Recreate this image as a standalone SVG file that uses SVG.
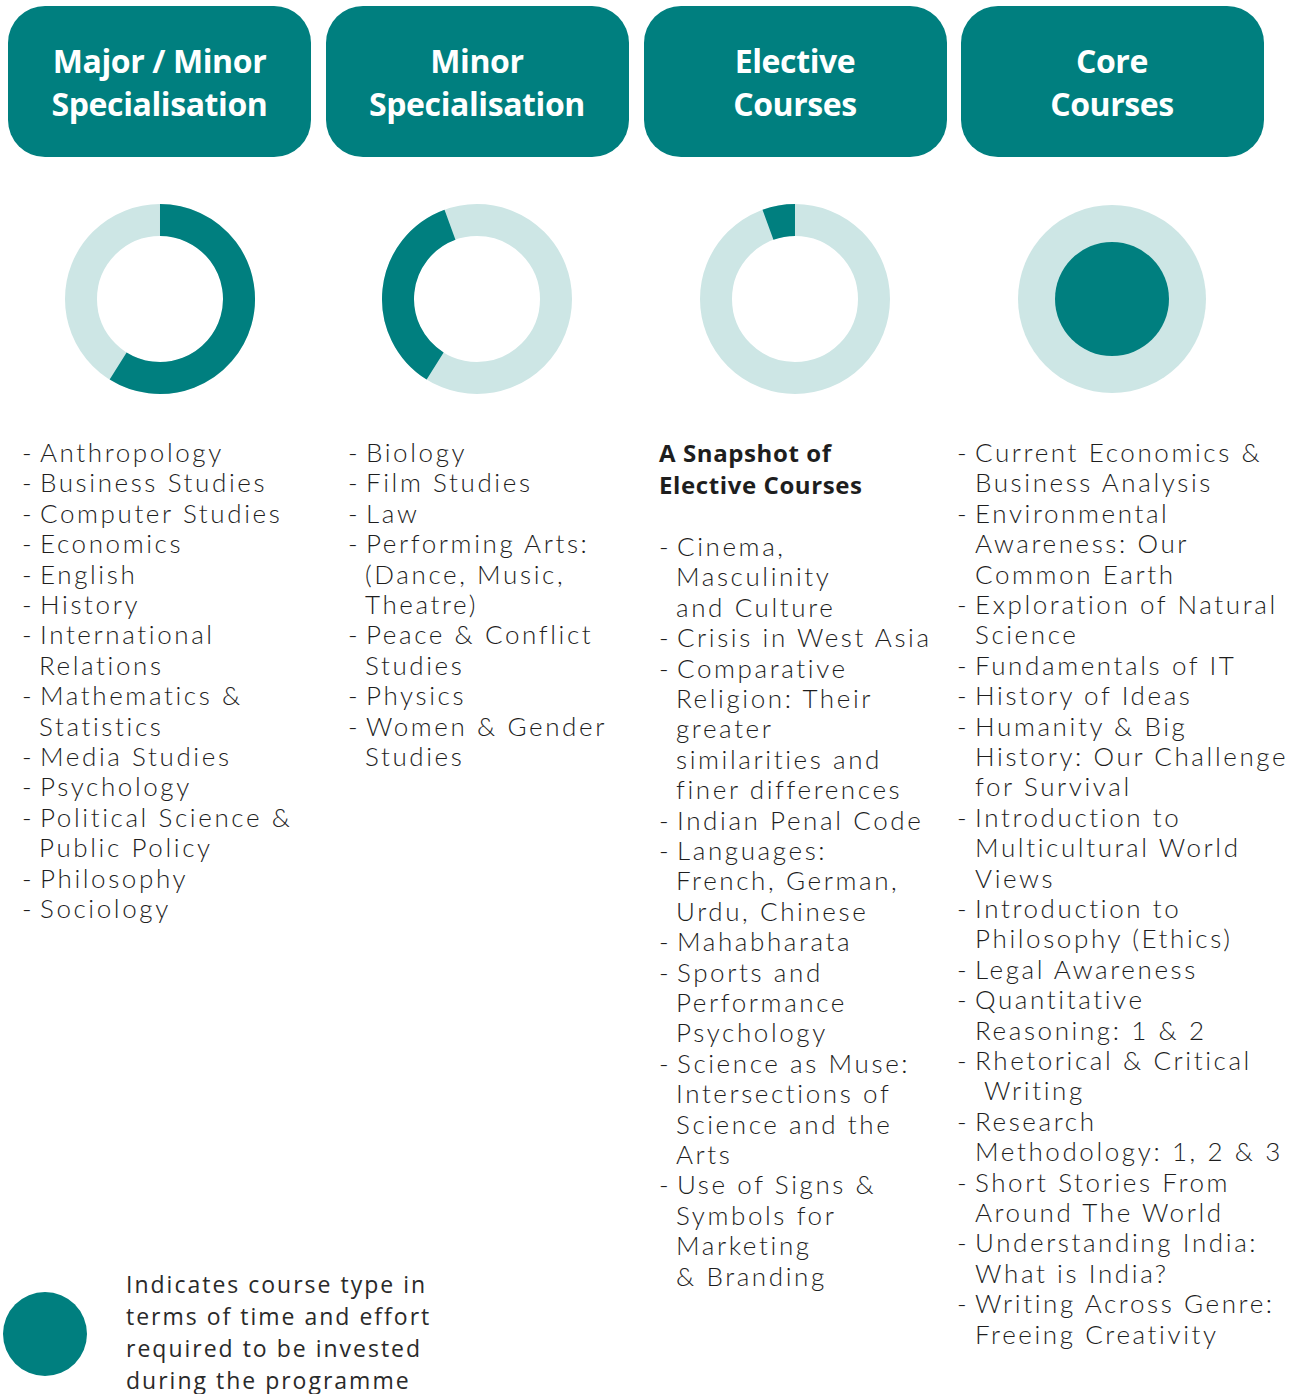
<svg xmlns="http://www.w3.org/2000/svg" width="1292" height="1394" viewBox="0 0 1292 1394">
<style>
.hdr{fill:#007f7f}
.ht{font-family:"Open Sans",sans-serif;font-weight:700;font-size:32px;fill:#ffffff;text-anchor:middle;letter-spacing:-0.4px}
.t{font-family:Lato,"Liberation Sans",sans-serif;font-weight:300;font-size:26px;fill:#1e1e1e;letter-spacing:2.6px}
.bt{font-family:"Open Sans",sans-serif;font-weight:700;font-size:24px;fill:#1e1e1e;letter-spacing:0.6px}
.lg{font-family:"Open Sans",sans-serif;font-size:23px;fill:#2a2a2a;letter-spacing:2px}
.light{fill:none;stroke:#cde6e5;stroke-width:32}
.dark{fill:none;stroke:#007f7f;stroke-width:32}
</style>
<rect width="1292" height="1394" fill="#ffffff"/>

<g id="header-major-minor">
<rect class="hdr" x="8" y="6" width="303" height="151" rx="37"/>
<text class="ht" x="159.5" y="73">Major / Minor</text>
<text class="ht" x="159.5" y="116">Specialisation</text>
</g>
<g id="header-minor">
<rect class="hdr" x="326" y="6" width="303" height="151" rx="37"/>
<text class="ht" x="477" y="73">Minor</text>
<text class="ht" x="477" y="116">Specialisation</text>
</g>
<g id="header-elective">
<rect class="hdr" x="644" y="6" width="303" height="151" rx="37"/>
<text class="ht" x="795" y="73">Elective</text>
<text class="ht" x="795" y="116">Courses</text>
</g>
<g id="header-core">
<rect class="hdr" x="961" y="6" width="303" height="151" rx="37"/>
<text class="ht" x="1112" y="73">Core</text>
<text class="ht" x="1112" y="116">Courses</text>
</g>

<g id="donut-major-minor">
<circle class="light" cx="160" cy="299" r="79"/>
<path class="dark" d="M160,220 A79,79 0 1 1 118.14,365.99"/>
</g>
<g id="donut-minor">
<circle class="light" cx="477" cy="299" r="79"/>
<path class="dark" d="M435.14,365.99 A79,79 0 0 1 449.98,224.76"/>
</g>
<g id="donut-elective">
<circle class="light" cx="795" cy="299" r="79"/>
<path class="dark" d="M767.98,224.76 A79,79 0 0 1 795,220"/>
</g>
<g id="donut-core">
<circle cx="1112" cy="299" r="94" fill="#cde6e5"/>
<circle cx="1112" cy="299" r="57" fill="#007f7f"/>
</g>

<g id="list-major-minor" class="t">
<text y="462"><tspan x="22">-</tspan><tspan x="40">Anthropology</tspan></text>
<text y="492.4"><tspan x="22">-</tspan><tspan x="40">Business Studies</tspan></text>
<text y="522.8"><tspan x="22">-</tspan><tspan x="40">Computer Studies</tspan></text>
<text y="553.2"><tspan x="22">-</tspan><tspan x="40">Economics</tspan></text>
<text y="583.6"><tspan x="22">-</tspan><tspan x="40">English</tspan></text>
<text y="614"><tspan x="22">-</tspan><tspan x="40">History</tspan></text>
<text y="644.4"><tspan x="22">-</tspan><tspan x="40">International</tspan></text>
<text y="674.8" x="39">Relations</text>
<text y="705.2"><tspan x="22">-</tspan><tspan x="40">Mathematics &amp;</tspan></text>
<text y="735.6" x="39">Statistics</text>
<text y="766"><tspan x="22">-</tspan><tspan x="40">Media Studies</tspan></text>
<text y="796.4"><tspan x="22">-</tspan><tspan x="40">Psychology</tspan></text>
<text y="826.8"><tspan x="22">-</tspan><tspan x="40">Political Science &amp;</tspan></text>
<text y="857.2" x="39">Public Policy</text>
<text y="887.6"><tspan x="22">-</tspan><tspan x="40">Philosophy</tspan></text>
<text y="918"><tspan x="22">-</tspan><tspan x="40">Sociology</tspan></text>
</g>

<g id="list-minor" class="t">
<text y="462"><tspan x="348">-</tspan><tspan x="366">Biology</tspan></text>
<text y="492.4"><tspan x="348">-</tspan><tspan x="366">Film Studies</tspan></text>
<text y="522.8"><tspan x="348">-</tspan><tspan x="366">Law</tspan></text>
<text y="553.2"><tspan x="348">-</tspan><tspan x="366">Performing Arts:</tspan></text>
<text y="583.6" x="365">(Dance, Music,</text>
<text y="614" x="365">Theatre)</text>
<text y="644.4"><tspan x="348">-</tspan><tspan x="366">Peace &amp; Conflict</tspan></text>
<text y="674.8" x="365">Studies</text>
<text y="705.2"><tspan x="348">-</tspan><tspan x="366">Physics</tspan></text>
<text y="735.6"><tspan x="348">-</tspan><tspan x="366">Women &amp; Gender</tspan></text>
<text y="766" x="365">Studies</text>
</g>

<g id="list-elective">
<text class="bt" x="659" y="462">A Snapshot of</text>
<text class="bt" x="659" y="494">Elective Courses</text>
<g class="t">
<text y="556"><tspan x="659">-</tspan><tspan x="677">Cinema,</tspan></text>
<text y="586.4" x="676">Masculinity</text>
<text y="616.8" x="676">and Culture</text>
<text y="647.2"><tspan x="659">-</tspan><tspan x="677">Crisis in West Asia</tspan></text>
<text y="677.6"><tspan x="659">-</tspan><tspan x="677">Comparative</tspan></text>
<text y="708" x="676">Religion: Their</text>
<text y="738.4" x="676">greater</text>
<text y="768.8" x="676">similarities and</text>
<text y="799.2" x="676">finer differences</text>
<text y="829.6"><tspan x="659">-</tspan><tspan x="677">Indian Penal Code</tspan></text>
<text y="860"><tspan x="659">-</tspan><tspan x="677">Languages:</tspan></text>
<text y="890.4" x="676">French, German,</text>
<text y="920.8" x="676">Urdu, Chinese</text>
<text y="951.2"><tspan x="659">-</tspan><tspan x="677">Mahabharata</tspan></text>
<text y="981.6"><tspan x="659">-</tspan><tspan x="677">Sports and</tspan></text>
<text y="1012" x="676">Performance</text>
<text y="1042.4" x="676">Psychology</text>
<text y="1072.8"><tspan x="659">-</tspan><tspan x="677">Science as Muse:</tspan></text>
<text y="1103.2" x="676">Intersections of</text>
<text y="1133.6" x="676">Science and the</text>
<text y="1164" x="676">Arts</text>
<text y="1194.4"><tspan x="659">-</tspan><tspan x="677">Use of Signs &amp;</tspan></text>
<text y="1224.8" x="676">Symbols for</text>
<text y="1255.2" x="676">Marketing</text>
<text y="1285.6" x="676">&amp; Branding</text>
</g>
</g>

<g id="list-core" class="t">
<text y="462"><tspan x="957">-</tspan><tspan x="975">Current Economics &amp;</tspan></text>
<text y="492.4" x="975">Business Analysis</text>
<text y="522.8"><tspan x="957">-</tspan><tspan x="975">Environmental</tspan></text>
<text y="553.2" x="975">Awareness: Our</text>
<text y="583.6" x="975">Common Earth</text>
<text y="614"><tspan x="957">-</tspan><tspan x="975">Exploration of Natural</tspan></text>
<text y="644.4" x="975">Science</text>
<text y="674.8"><tspan x="957">-</tspan><tspan x="975">Fundamentals of IT</tspan></text>
<text y="705.2"><tspan x="957">-</tspan><tspan x="975">History of Ideas</tspan></text>
<text y="735.6"><tspan x="957">-</tspan><tspan x="975">Humanity &amp; Big</tspan></text>
<text y="766" x="975">History: Our Challenge</text>
<text y="796.4" x="975">for Survival</text>
<text y="826.8"><tspan x="957">-</tspan><tspan x="975">Introduction to</tspan></text>
<text y="857.2" x="975">Multicultural World</text>
<text y="887.6" x="975">Views</text>
<text y="918"><tspan x="957">-</tspan><tspan x="975">Introduction to</tspan></text>
<text y="948.4" x="975">Philosophy (Ethics)</text>
<text y="978.8"><tspan x="957">-</tspan><tspan x="975">Legal Awareness</tspan></text>
<text y="1009.2"><tspan x="957">-</tspan><tspan x="975">Quantitative</tspan></text>
<text y="1039.6" x="975">Reasoning: 1 &amp; 2</text>
<text y="1070"><tspan x="957">-</tspan><tspan x="975">Rhetorical &amp; Critical</tspan></text>
<text y="1100.4" x="984">Writing</text>
<text y="1130.8"><tspan x="957">-</tspan><tspan x="975">Research</tspan></text>
<text y="1161.2" x="975">Methodology: 1, 2 &amp; 3</text>
<text y="1191.6"><tspan x="957">-</tspan><tspan x="975">Short Stories From</tspan></text>
<text y="1222" x="975">Around The World</text>
<text y="1252.4"><tspan x="957">-</tspan><tspan x="975">Understanding India:</tspan></text>
<text y="1282.8" x="975">What is India?</text>
<text y="1313.2"><tspan x="957">-</tspan><tspan x="975">Writing Across Genre:</tspan></text>
<text y="1343.6" x="975">Freeing Creativity</text>
</g>

<g id="legend">
<circle cx="45" cy="1334" r="42" fill="#007f7f"/>
<text class="lg" x="126" y="1293">Indicates course type in</text>
<text class="lg" x="126" y="1325">terms of time and effort</text>
<text class="lg" x="126" y="1357">required to be invested</text>
<text class="lg" x="126" y="1389">during the programme</text>
</g>
</svg>
